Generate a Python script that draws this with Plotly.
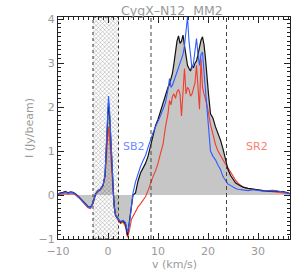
import plotly.graph_objects as go

velocity = [-10.0, -9.5, -9.0, -8.5, -8.0, -7.5, -7.0, -6.5, -6.0, -5.5,
            -5.0, -4.5, -4.0, -3.5, -3.0, -2.5, -2.0, -1.5, -1.0, -0.6,
            -0.3, -0.1, 0.1, 0.3, 0.6, 0.9, 1.2, 1.5, 2.0, 2.5,
            3.0, 3.5, 3.9, 4.3, 4.7, 5.0, 5.5, 6.0, 6.5, 7.0,
            7.5, 8.0, 8.5, 9.0, 9.5, 10.0, 10.5, 11.0, 11.5, 12.0,
            12.3, 12.6, 12.9, 13.2, 13.5, 13.8, 14.1, 14.4, 14.7, 15.0,
            15.3, 15.6, 15.9, 16.2, 16.5, 16.8, 17.1, 17.4, 17.7, 18.0,
            18.3, 18.6, 18.9, 19.2, 19.5, 19.8, 20.1, 20.5, 21.0, 21.5,
            22.0, 22.5, 23.0, 23.5, 24.0, 24.5, 25.0, 25.5, 26.0, 26.5,
            27.0, 28.0, 29.0, 30.0, 31.0, 32.0, 33.0, 34.0, 35.0, 36.0,
            36.5]

total = [0.02, 0.05, 0.06, 0.08, 0.05, 0.07, 0.06, 0.03, -0.02, -0.08,
         -0.15, -0.22, -0.26, -0.28, -0.18, 0.03, 0.10, 0.14, 0.22, 0.45,
         1.20, 1.90, 2.10, 1.85, 1.10, 0.25, -0.20, -0.45, -0.55, -0.62,
         -0.58, -0.66, -0.92, -0.60, -0.22, 0.00, 0.05, 0.32, 0.50, 0.62,
         0.72, 0.88, 1.12, 1.35, 1.58, 1.72, 1.90, 2.08, 2.30, 2.45,
         2.52, 2.65, 2.78, 3.00, 3.28, 3.50, 3.62, 3.45, 3.50, 3.64,
         3.40, 3.10, 2.95, 2.88, 2.82, 2.95, 2.90, 3.00, 3.05, 3.20,
         3.37, 3.52, 3.60, 3.42, 3.10, 2.65, 2.30, 1.85, 1.75, 1.55,
         1.42, 1.25, 1.05, 0.80, 0.58, 0.45, 0.35, 0.28, 0.24, 0.20,
         0.18, 0.15, 0.13, 0.11, 0.10, 0.09, 0.10, 0.08, 0.08, 0.05,
         0.03]

sb2 = [0.02, 0.05, 0.04, 0.07, 0.04, 0.06, 0.05, 0.02, -0.03, -0.09,
       -0.16, -0.22, -0.27, -0.29, -0.18, 0.02, 0.09, 0.13, 0.22, 0.45,
       1.30, 2.05, 2.25, 1.95, 1.15, 0.25, -0.22, -0.45, -0.55, -0.60,
       -0.58, -0.62, -0.85, -0.65, -0.20, 0.05, 0.30, 0.48, 0.65, 0.78,
       0.90, 1.08, 1.28, 1.42, 1.55, 1.66, 1.80, 1.95, 2.10, 2.40,
       2.65, 2.45, 2.50, 2.60, 2.70, 2.80, 2.85, 2.95, 3.05, 3.20,
       3.40, 3.70, 4.05, 3.50, 3.10, 2.88, 3.00, 3.30, 3.56, 3.20,
       2.95, 3.20, 3.25, 2.80, 2.40, 1.95, 1.45, 1.00, 0.88, 0.80,
       0.68, 0.58, 0.42, 0.33, 0.25, 0.22, 0.18, 0.15, 0.13, 0.12,
       0.11, 0.10, 0.12, 0.10, 0.09, 0.10, 0.11, 0.09, 0.07, 0.05,
       0.03]

sr2 = [0.00, 0.02, 0.02, 0.03, 0.02, 0.03, 0.03, 0.00, -0.04, -0.10,
       -0.17, -0.24, -0.29, -0.31, -0.20, 0.00, 0.08, 0.12, 0.20, 0.40,
       0.95, 1.45, 1.55, 1.35, 0.80, 0.15, -0.25, -0.48, -0.58, -0.65,
       -0.62, -0.72, -0.96, -0.80, -0.55, -0.48, -0.38, -0.27, -0.20, -0.12,
       -0.04, 0.10, 0.28, 0.42, 0.55, 0.72, 0.95, 1.15, 1.55, 1.85,
       2.15, 2.05, 2.25, 2.30, 2.20, 2.35, 2.40, 2.30, 1.80, 2.45,
       2.88, 2.30, 2.45, 2.40, 2.25, 2.30, 2.40, 2.55, 2.95, 2.40,
       1.95, 3.10, 2.45, 2.30, 2.20, 2.05, 1.86, 1.60, 1.38, 1.15,
       1.00, 0.90, 0.78, 0.70, 0.62, 0.52, 0.42, 0.34, 0.27, 0.22,
       0.18, 0.15, 0.13, 0.11, 0.10, 0.09, 0.08, 0.07, 0.06, 0.04,
       0.03]

hatch_range = [-3.0, 2.1]
dashed_v = [8.6, 23.7]
x_range = [-10.0, 36.4]
y_range = [-1.0, 4.05]
labels = [("SB2", 5.2, 1.1, "#6f8cff"), ("SR2", 29.8, 1.1, "#ff7b6e")]

GRAY = "#9a9a9a"
FONT = "DejaVu Sans"

fig = go.Figure()

# gray filled total spectrum
fig.add_trace(go.Scatter(x=velocity, y=total, mode="lines", line=dict(width=0),
                         fill="tozeroy", fillcolor="#c6c6c6", showlegend=False,
                         hoverinfo="skip"))

# hatched region
hx0, hx1 = hatch_range
fig.add_trace(go.Scatter(x=[hx0, hx0, hx1, hx1, hx0],
                         y=[y_range[0], y_range[1], y_range[1], y_range[0], y_range[0]],
                         mode="lines", line=dict(width=1, color="#333", dash="dot"),
                         fill="toself", fillcolor="rgba(0,0,0,0)",
                         fillpattern=dict(shape="x", size=3, solidity=0.3,
                                          fgcolor="#444", bgcolor="rgba(0,0,0,0)"),
                         showlegend=False, hoverinfo="skip"))

fig.add_trace(go.Scatter(x=velocity, y=sr2, mode="lines",
                         line=dict(color="#f23c2c", width=1.1), showlegend=False))
fig.add_trace(go.Scatter(x=velocity, y=total, mode="lines",
                         line=dict(color="#111111", width=1.2), showlegend=False))
fig.add_trace(go.Scatter(x=velocity, y=sb2, mode="lines",
                         line=dict(color="#2f5cff", width=1.1), showlegend=False))

for xv in dashed_v:
    fig.add_shape(type="line", x0=xv, x1=xv, y0=y_range[0], y1=y_range[1],
                  xref="x", yref="y",
                  line=dict(color="#444", width=1, dash="4px,3px"))

for txt, xv, yv, col in labels:
    fig.add_annotation(x=xv, y=yv, text=txt, showarrow=False,
                       font=dict(family=FONT, size=11, color=col))

# axis titles placed as in the reference
fig.add_annotation(x=0.5, y=-0.117, xref="paper", yref="paper", text="v (km/s)",
                   showarrow=False, xanchor="center", yanchor="middle",
                   font=dict(family=FONT, size=11, color=GRAY))
fig.add_annotation(x=-0.125, y=0.5, xref="paper", yref="paper", text="I (Jy/beam)",
                   showarrow=False, xanchor="center", yanchor="middle", textangle=-90,
                   font=dict(family=FONT, size=11, color=GRAY))

axis_common = dict(showline=True, linecolor="#222", linewidth=1, mirror="allticks",
                   ticks="inside", ticklen=6, tickcolor="#222", showgrid=False,
                   zeroline=False, tickfont=dict(family=FONT, size=11, color=GRAY))

fig.update_xaxes(range=x_range, dtick=10, tick0=0, ticklabelstandoff=2,
                 minor=dict(dtick=1, ticks="inside", ticklen=3, tickcolor="#222"),
                 **axis_common)
fig.update_yaxes(range=y_range, dtick=1, tick0=0,
                 minor=dict(dtick=0.1, ticks="inside", ticklen=3, tickcolor="#222"),
                 **axis_common)

fig.update_layout(width=307, height=276,
                  margin=dict(l=58, r=17, t=17, b=37, autoexpand=False),
                  paper_bgcolor="white", plot_bgcolor="white",
                  title=dict(text="CygX\u2013N12  MM2", x=0.56, xanchor="center",
                             yref="container", y=0.962, yanchor="middle",
                             font=dict(family=FONT, size=12.5, color=GRAY)),
                  showlegend=False)

fig.write_html("out.html", config={"displayModeBar": False},
               post_script="document.body.style.margin='0';document.body.style.overflow='hidden';")
